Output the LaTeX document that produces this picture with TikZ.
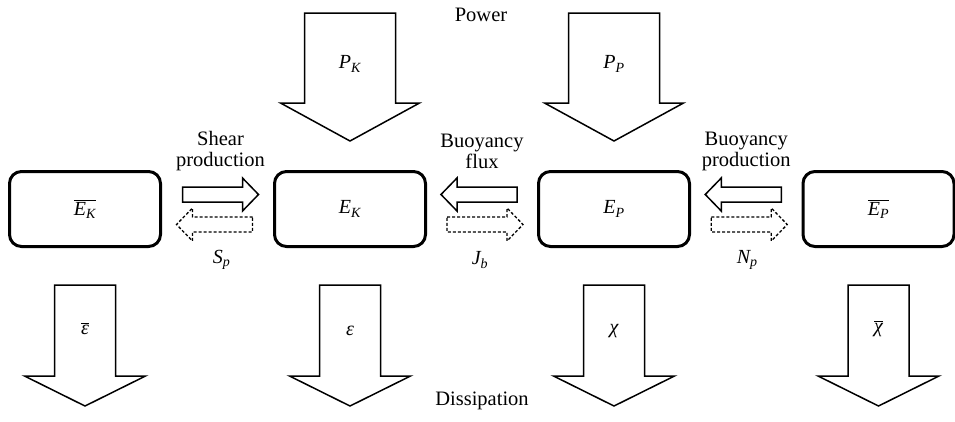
\documentclass[tikz,border=0pt]{standalone}
\usepackage{fontspec}
\setmainfont{Liberation Serif}
\usetikzlibrary{calc}
\newcommand\lbl[2]{{\itshape #1\textsubscript{#2}}}
\newcommand\barred[1]{\leavevmode\vbox{\hrule height 0.9pt\kern1.8pt\hbox{#1}}}
\begin{document}
\begin{tikzpicture}[x=1pt,y=-1pt,
  txt/.style={font=\fontsize{20.5}{21}\selectfont, align=center, inner sep=0pt},
  sym/.style={font=\fontsize{20}{22}\selectfont, inner sep=0pt},
  gsym/.style={font=\fontsize{20}{22}\selectfont, inner sep=0pt},
  ebox/.style={draw, line width=3pt, rounded corners=12pt, minimum width=151pt, minimum height=75pt, inner sep=0pt,
    font=\fontsize{20}{22}\selectfont},
  blk/.style={draw, line width=1.5pt, line join=miter, fill=white},
  solidarr/.style={draw, line width=1.5pt, line join=miter},
  dasharr/.style={draw, line width=1.3pt, dash pattern=on 3pt off 2pt, line join=miter},
  pics/arrpair/.style={code={
    \draw[solidarr] (-35,-22) -- (25,-22) -- (25,-31) -- (41,-14.5) -- (25,2) -- (25,-7) -- (-35,-7) -- cycle;
    \draw[dasharr] (35,8) -- (-25,8) -- (-25,-1) -- (-41,15.5) -- (-25,32) -- (-25,23) -- (35,23) -- cycle;
  }},
  pics/topdown/.style={code={
    \draw[blk] (-45.5,0) -- (45.5,0) -- (45.5,90) -- (69.5,90) -- (0,128) -- (-69.5,90) -- (-45.5,90) -- cycle;
  }},
  pics/botdown/.style={code={
    \draw[blk] (-30.5,0) -- (30.5,0) -- (30.5,91) -- (60.5,91) -- (0,121) -- (-60.5,91) -- (-30.5,91) -- cycle;
  }}
]
\useasboundingbox (0,0) rectangle (955,421);

% boxes
\node[ebox] (mk) at (85,209) {\barred{\lbl{E}{K}}};
\node[ebox] (ek) at (350,209) {\lbl{E}{K}};
\node[ebox] (ep) at (614,209) {\lbl{E}{P}};
\node[ebox] (mp) at (878.5,209) {\barred{\lbl{E}{P}}};

% gap centres
\coordinate (g1) at ($(mk.east)!0.5!(ek.west)$);
\coordinate (g2) at ($(ek.east)!0.5!(ep.west)$);
\coordinate (g3) at ($(ep.east)!0.5!(mp.west)$);

% exchange arrows
\pic at (g1) {arrpair};
\pic[xscale=-1] at (g2) {arrpair};
\pic[xscale=-1] at (g3) {arrpair};

% exchange labels
\node[txt] (shear) at ($(g1)+(3,-58)$) {Shear\\production};
\node[txt] (bflux) at ($(g2)+(0,-58)$) {Buoyancy\\flux};
\node[txt] (bprod) at ($(g3)+(0,-58)$) {Buoyancy\\production};
\node[sym] (sp) at ($(g1)+(4,51)$) {\lbl{S}{p}};
\node[sym] (jb) at ($(g2)+(-2,51)$) {\lbl{J}{b}};
\node[sym] (np) at ($(g3)+(1,51)$) {\lbl{N}{p}};

% power arrows
\coordinate (pkt) at (ek.center |- 0,13);
\coordinate (ppt) at (ep.center |- 0,13);
\pic at (pkt) {topdown};
\pic at (ppt) {topdown};
\node[sym] (pk) at ($(pkt)+(0,51)$) {\lbl{P}{K}};
\node[sym] (pp) at ($(ppt)+(0,51)$) {\lbl{P}{P}};
\node[txt] (power) at (481,15) {Power};

% dissipation arrows
\coordinate (d1) at (mk.center |- 0,285);
\coordinate (d2) at (ek.center |- 0,285);
\coordinate (d3) at (ep.center |- 0,285);
\coordinate (d4) at (mp.center |- 0,285);
\pic at (d1) {botdown};
\pic at (d2) {botdown};
\pic at (d3) {botdown};
\pic at (d4) {botdown};
\node[gsym] (eb) at ($(d1)+(0,44)$) {\barred{\itshape ε}};
\node[gsym] (e) at ($(d2)+(0,46)$) {\itshape ε};
\node[gsym] (ch) at ($(d3)+(0,46)$) {\itshape χ};
\node[gsym] (chb) at ($(d4)+(0,44)$) {\barred{\itshape χ}};
\node[txt] (diss) at (482,401) {Dissipation};
\end{tikzpicture}
\end{document}
